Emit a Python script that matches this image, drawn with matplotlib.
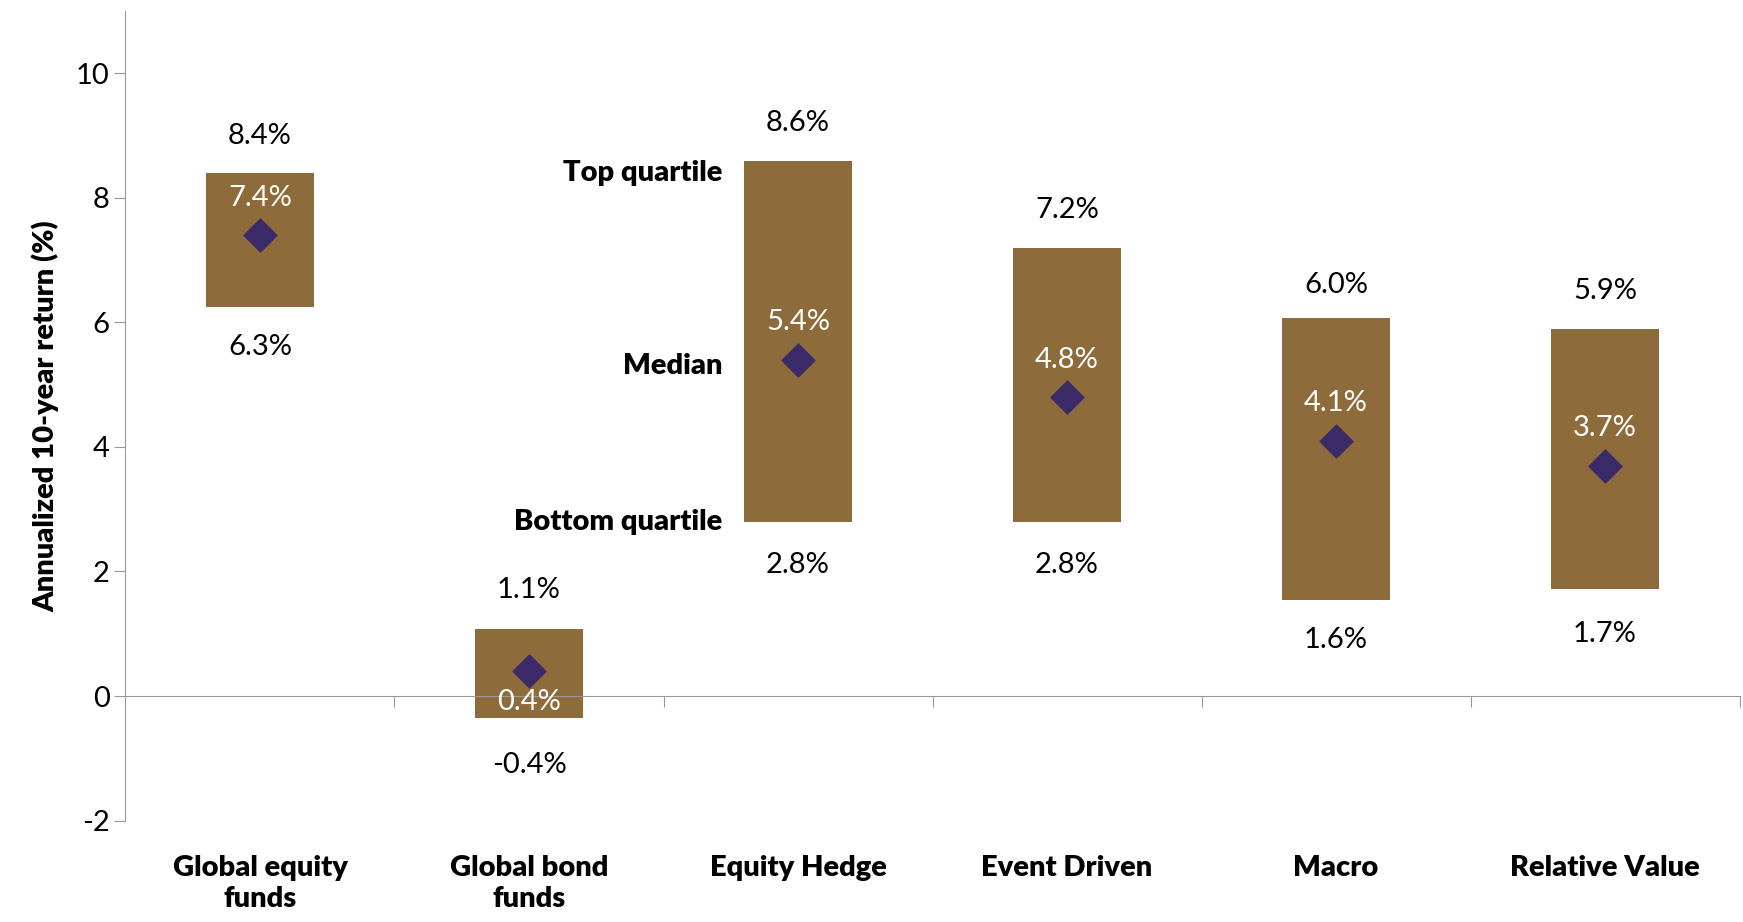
import matplotlib.pyplot as plt

categories = ['Global equity\nfunds', 'Global bond\nfunds', 'Equity Hedge', 'Event Driven', 'Macro', 'Relative Value']
top_q = [8.4, 1.1, 8.6, 7.2, 6.0, 5.9]
median = [7.4, 0.4, 5.4, 4.8, 4.1, 3.7]
bottom_q = [6.3, -0.4, 2.8, 2.8, 1.6, 1.7]
shown_bottom = [6.25, -0.35, 2.8, 2.8, 1.55, 1.72]
shown_top = [8.4, 1.07, 8.6, 7.2, 6.07, 5.9]

plt.rcParams['font.family'] = ['Lato', 'DejaVu Sans']
plt.rcParams['axes.unicode_minus'] = False
fs = 21
fig = plt.figure(figsize=(17.43, 9.22), dpi=100)
ax = fig.add_axes([0.072, 0.11, 0.926, 0.878])
x = range(len(categories))
ax.bar(x, [t - b for t, b in zip(shown_top, shown_bottom)], bottom=shown_bottom,
       width=0.4, color='#8E6B3A', zorder=2)
ax.scatter(x, median, marker='D', s=280, color='#3A2A68', zorder=3)

for i in x:
    ax.text(i, top_q[i] + 0.6, f'{top_q[i]:.1f}%', ha='center', va='center', fontsize=fs)
    ax.text(i, bottom_q[i] - 0.7, f'{bottom_q[i]:.1f}%', ha='center', va='center', fontsize=fs)
    my = median[i] - 0.5 if i == 1 else median[i] + 0.6
    ax.text(i, my, f'{median[i]:.1f}%', ha='center', va='center', fontsize=fs, color='white', zorder=4)
    ax.text(i, -2.55, categories[i], ha='center', va='top', fontsize=fs, fontweight='heavy', linespacing=1.25)

ax.text(1.72, 8.4, 'Top quartile', ha='right', va='center', fontsize=fs, fontweight='heavy')
ax.text(1.72, 5.3, 'Median', ha='right', va='center', fontsize=fs, fontweight='heavy')
ax.text(1.72, 2.8, 'Bottom quartile', ha='right', va='center', fontsize=fs, fontweight='heavy')

ax.set_xlim(-0.5, 5.5)
ax.set_ylim(-2, 11)
ax.set_yticks([-2, 0, 2, 4, 6, 8, 10])
ax.tick_params(axis='y', labelsize=fs, color='#999999', length=8)
ax.spines['bottom'].set_position(('data', 0))
ax.spines['bottom'].set_color('#999999')
ax.spines['left'].set_color('#999999')
ax.spines['top'].set_visible(False)
ax.spines['right'].set_visible(False)
ax.set_xticks([0.5, 1.5, 2.5, 3.5, 4.5, 5.5])
ax.set_xticklabels([])
ax.tick_params(axis='x', color='#999999', length=8, direction='out')
ax.set_ylabel('Annualized 10-year return (%)', fontsize=fs, fontweight='heavy', labelpad=12)

fig.savefig('out.png')
